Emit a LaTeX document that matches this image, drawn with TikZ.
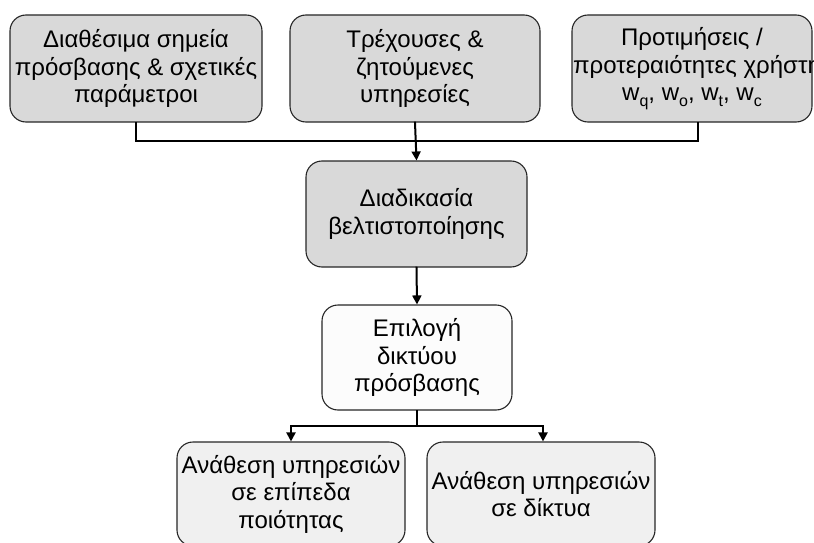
\documentclass[tikz,border=0pt]{standalone}
\usepackage{fontspec}
\setmainfont{Liberation Sans}
\usetikzlibrary{arrows.meta}
\definecolor{topfill}{RGB}{217,217,217}
\definecolor{midfill}{RGB}{252,252,252}
\definecolor{lowfill}{RGB}{240,240,240}
\newcommand{\wsub}[1]{w\raisebox{-0.45ex}{\fontsize{16}{16}\selectfont #1}}
\tikzset{
  card/.style={draw=black!85, line width=1.1pt, rounded corners=16pt,
    align=center, inner sep=0pt, font=\fontsize{24}{27.5}\selectfont},
  link/.style={line width=2pt, line cap=rect},
  arrowlink/.style={link, -{Triangle[length=9pt,width=9pt]}}
}
\begin{document}
\begin{tikzpicture}[x=1pt,y=-1pt]
\useasboundingbox (0,0) rectangle (814,543);
% input boxes
\node[card, fill=topfill, minimum width=252pt, minimum height=107pt] (a1) at (136,68.5)
  {Διαθέσιμα σημεία\\\makebox[0pt]{πρόσβασης \& σχετικές}\\παράμετροι};
\node[card, fill=topfill, minimum width=250pt, minimum height=107pt] (a2) at (415,68.5)
  {Τρέχουσες \&\\ζητούμενες\\υπηρεσίες};
\node[card, fill=topfill, minimum width=240pt, minimum height=107pt] (a3) at (692,68.5)
  {Προτιμήσεις /\\\makebox[0pt]{\hspace{10pt}προτεραιότητες χρήστη}\\\wsub{q}, \wsub{o}, \wsub{t}, \wsub{c}};
% optimisation
\node[card, fill=topfill, minimum width=221pt, minimum height=106pt] (opt) at (416.5,214)
  {Διαδικασία\\βελτιστοποίησης};
% access network selection
\node[card, fill=midfill, minimum width=190pt, minimum height=105pt] (sel) at (417,357.5)
  {Επιλογή\\δικτύου\\πρόσβασης};
% outputs
\node[card, fill=lowfill, minimum width=228pt, minimum height=104pt] (b1) at (291,494)
  {\makebox[0pt]{Ανάθεση υπηρεσιών}\\σε επίπεδα\\ποιότητας};
\node[card, fill=lowfill, minimum width=228pt, minimum height=104pt] (b2) at (541,494)
  {\makebox[0pt]{Ανάθεση υπηρεσιών}\\σε δίκτυα};
% collecting bus above the optimiser
\coordinate (ja) at (a1.south |- 0,141);
\coordinate (jc) at ([xshift=6pt]a3.south);
\draw[link] (a1.south) -- (ja) -- (jc |- ja) -- (jc);
\draw[arrowlink] (a2.south) -- (opt.north);
\draw[arrowlink] (opt.south) -- (sel.north);
% distribution bus below the selection
\coordinate (jb) at (sel.south |- 0,426);
\draw[link] (sel.south) -- (jb);
\draw[arrowlink] (jb) -| (b1.north);
\draw[arrowlink] (jb) -| ([xshift=2pt]b2.north);
\end{tikzpicture}
\end{document}
